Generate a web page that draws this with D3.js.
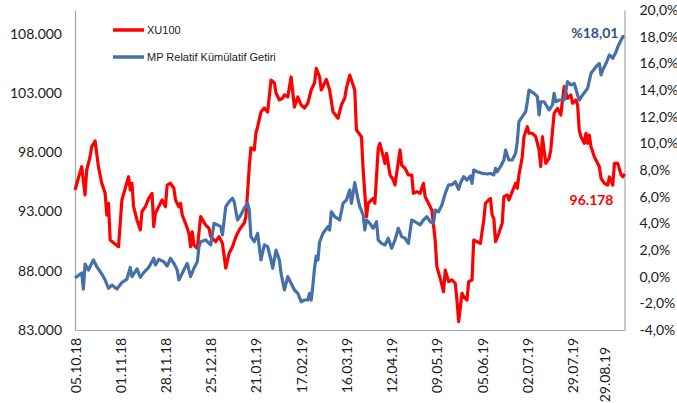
<!DOCTYPE html>
<html>
<head>
<meta charset="utf-8">
<script src="https://cdn.jsdelivr.net/npm/d3@7"></script>
<style>
  body { margin: 0; background: #fff; }
  svg { display: block; }
</style>
</head>
<body>
<div id="chart"></div>
<script>
// XU100 index (left axis)
var xu100 = [
  ["05.10.18",94810],["09.10.18",96780],["11.10.18",94390],["12.10.18",96500],["14.10.18",97620],["15.10.18",98470],
  ["17.10.18",98950],["19.10.18",96780],["21.10.18",95380],["23.10.18",94530],["24.10.18",92700],["25.10.18",93690],
  ["26.10.18",90590],["28.10.18",90370],["31.10.18",90030],["02.11.18",93970],["04.11.18",94960],["06.11.18",95930],
  ["07.11.18",94810],["08.11.18",95380],["09.11.18",93400],["11.11.18",92280],["13.11.18",91440],["14.11.18",92980],
  ["16.11.18",93400],["18.11.18",94110],["20.11.18",94530],["21.11.18",91720],["22.11.18",92850],["25.11.18",93690],
  ["26.11.18",93970],["28.11.18",93400],["29.11.18",95230],["01.12.18",95380],["03.12.18",94960],["04.12.18",93970],
  ["06.12.18",93400],["07.12.18",93690],["08.12.18",92700],["10.12.18",92000],["12.12.18",91160],["13.12.18",90030],
  ["14.12.18",91290],["15.12.18",90170],["17.12.18",89890],["19.12.18",92560],["22.12.18",91860],["24.12.18",91580],
  ["25.12.18",90870],["28.12.18",90450],["30.12.18",90870],["01.01.19",90310],["03.01.19",88210],["05.01.19",89470],
  ["07.01.19",90030],["09.01.19",90850],["11.01.19",91440],["14.01.19",92030],["15.01.19",92530],["16.01.19",94560],
  ["17.01.19",96750],["18.01.19",98360],["20.01.19",98190],["21.01.19",99620],["22.01.19",100130],["24.01.19",101390],
  ["26.01.19",101730],["28.01.19",101390],["30.01.19",104090],["01.02.19",103840],["02.02.19",103000],["04.02.19",102410],
  ["06.02.19",102570],["07.02.19",102830],["09.02.19",102660],["11.02.19",104350],["13.02.19",101810],["15.02.19",102660],
  ["17.02.19",101980],["19.02.19",101730],["21.02.19",102150],["23.02.19",103250],["25.02.19",103840],["26.02.19",105080],
  ["28.02.19",104370],["01.03.19",103250],["04.03.19",104150],["06.03.19",103250],["08.03.19",101420],["11.03.19",100860],
  ["13.03.19",101980],["15.03.19",102550],["16.03.19",103390],["18.03.19",104510],["21.03.19",103250],["22.03.19",99870],
  ["25.03.19",99310],["26.03.19",96500],["28.03.19",92560],["29.03.19",93690],["31.03.19",93970],["01.04.19",94110],
  ["02.04.19",93690],["04.04.19",98330],["05.04.19",98750],["07.04.19",97620],["08.04.19",97060],["09.04.19",97910],
  ["11.04.19",96080],["13.04.19",95660],["14.04.19",95230],["17.04.19",98190],["18.04.19",96920],["20.04.19",96640],
  ["22.04.19",96080],["24.04.19",96080],["25.04.19",94530],["27.04.19",94670],["29.04.19",94530],["01.05.19",95380],
  ["02.05.19",94250],["04.05.19",93690],["06.05.19",93120],["08.05.19",90590],["09.05.19",88340],["11.05.19",87360],
  ["13.05.19",86230],["14.05.19",88060],["16.05.19",87080],["18.05.19",87220],["20.05.19",86940],["21.05.19",85530],
  ["22.05.19",83700],["24.05.19",86100],["25.05.19",85810],["27.05.19",85530],["28.05.19",87080],["30.05.19",87220],
  ["31.05.19",90590],["02.06.19",90450],["04.06.19",90310],["06.06.19",92280],["07.06.19",93690],["09.06.19",93970],
  ["10.06.19",94110],["11.06.19",92700],["12.06.19",92420],["13.06.19",90450],["15.06.19",91160],["17.06.19",92000],
  ["18.06.19",94250],["20.06.19",94390],["21.06.19",93970],["23.06.19",94670],["25.06.19",95380],["26.06.19",94960],
  ["27.06.19",96080],["29.06.19",97620],["30.06.19",99310],["02.07.19",100150],["03.07.19",99600],["05.07.19",99600],
  ["07.07.19",99310],["09.07.19",98190],["10.07.19",96780],["11.07.19",99310],["13.07.19",97060],["15.07.19",97490],
  ["16.07.19",98190],["18.07.19",101280],["20.07.19",101700],["22.07.19",101140],["23.07.19",102410],["24.07.19",103530],
  ["26.07.19",102550],["28.07.19",102830],["29.07.19",102130],["31.07.19",102410],["01.08.19",101980],["02.08.19",99870],
  ["03.08.19",99310],["05.08.19",98750],["06.08.19",99600],["07.08.19",98750],["08.08.19",99450],["09.08.19",98470],
  ["11.08.19",97620],["14.08.19",96780],["15.08.19",95800],["17.08.19",95380],["19.08.19",95230],["20.08.19",95930],
  ["22.08.19",95230],["23.08.19",97060],["25.08.19",97060],["27.08.19",96080],["28.08.19",95930],["29.08.19",96178]
];

// MP relative cumulative return, % (right axis)
var mpGetiri = [
  ["05.10.18",-0.10],["09.10.18",0.28],["10.10.18",-0.93],["11.10.18",0.95],["13.10.18",0.50],["16.10.18",1.25],
  ["18.10.18",0.75],["21.10.18",0.20],["23.10.18",-0.25],["25.10.18",-0.87],["27.10.18",-0.63],["30.10.18",-0.93],
  ["02.11.18",-0.44],["05.11.18",-0.18],["07.11.18",0.69],["08.11.18",0.00],["11.11.18",0.58],["13.11.18",-0.06],
  ["15.11.18",0.31],["18.11.18",0.69],["21.11.18",1.38],["22.11.18",0.88],["24.11.18",1.30],["27.11.18",1.12],
  ["29.11.18",0.80],["01.12.18",1.38],["03.12.18",1.00],["05.12.18",0.50],["06.12.18",-0.25],["08.12.18",0.25],
  ["11.12.18",1.00],["13.12.18",0.00],["15.12.18",0.63],["17.12.18",1.12],["18.12.18",2.25],["19.12.18",2.62],
  ["22.12.18",2.75],["25.12.18",2.38],["27.12.18",4.00],["29.12.18",3.88],["31.12.18",3.75],["01.01.19",3.13],
  ["03.01.19",5.25],["05.01.19",5.62],["07.01.19",5.88],["08.01.19",5.62],["10.01.19",4.25],["12.01.19",4.63],
  ["14.01.19",5.13],["16.01.19",5.50],["17.01.19",5.00],["18.01.19",3.00],["20.01.19",2.62],["22.01.19",3.25],
  ["23.01.19",2.25],["24.01.19",1.25],["26.01.19",2.38],["28.01.19",2.25],["30.01.19",1.25],["31.01.19",0.63],
  ["02.02.19",2.00],["04.02.19",1.25],["05.02.19",0.25],["07.02.19",-1.00],["09.02.19",0.00],["11.02.19",-0.50],
  ["13.02.19",-1.00],["15.02.19",-1.25],["17.02.19",-1.88],["19.02.19",-1.75],["21.02.19",-1.75],["22.02.19",-1.25],
  ["23.02.19",-1.75],["24.02.19",-0.63],["25.02.19",0.65],["26.02.19",1.55],["27.02.19",1.25],["28.02.19",2.60],
  ["02.03.19",3.25],["05.03.19",3.75],["06.03.19",3.50],["07.03.19",4.87],["09.03.19",4.50],["12.03.19",4.25],
  ["14.03.19",5.50],["16.03.19",5.75],["18.03.19",6.50],["19.03.19",5.50],["20.03.19",6.25],["21.03.19",7.05],
  ["23.03.19",5.75],["24.03.19",5.25],["26.03.19",4.63],["27.03.19",3.50],["28.03.19",4.25],["30.03.19",4.00],
  ["01.04.19",3.63],["03.04.19",4.12],["04.04.19",2.75],["06.04.19",2.50],["08.04.19",2.38],["10.04.19",2.88],
  ["12.04.19",2.13],["14.04.19",2.75],["16.04.19",3.63],["18.04.19",3.00],["20.04.19",2.88],["22.04.19",2.50],
  ["24.04.19",4.25],["26.04.19",4.12],["29.04.19",3.88],["01.05.19",4.25],["03.05.19",4.50],["05.05.19",4.12],
  ["07.05.19",4.00],["08.05.19",5.00],["10.05.19",4.87],["12.05.19",5.38],["14.05.19",6.25],["16.05.19",6.88],
  ["18.05.19",6.88],["20.05.19",7.12],["22.05.19",6.55],["23.05.19",7.00],["25.05.19",7.50],["27.05.19",7.25],
  ["29.05.19",7.55],["30.05.19",7.00],["31.05.19",8.00],["02.06.19",7.87],["05.06.19",7.75],["08.06.19",7.70],
  ["10.06.19",7.75],["12.06.19",7.63],["13.06.19",8.13],["14.06.19",7.87],["16.06.19",8.25],["18.06.19",8.75],
  ["19.06.19",9.50],["21.06.19",8.75],["23.06.19",8.75],["25.06.19",9.25],["26.06.19",10.12],["27.06.19",11.62],
  ["29.06.19",12.00],["01.07.19",12.37],["02.07.19",13.12],["03.07.19",14.00],["06.07.19",13.75],["08.07.19",13.50],
  ["09.07.19",12.13],["10.07.19",13.12],["12.07.19",13.12],["15.07.19",12.50],["17.07.19",12.88],["18.07.19",13.75],
  ["19.07.19",13.12],["21.07.19",13.25],["24.07.19",13.25],["26.07.19",14.62],["28.07.19",14.38],["30.07.19",14.50],
  ["01.08.19",13.63],["02.08.19",13.25],["04.08.19",13.63],["07.08.19",14.13],["09.08.19",15.25],["12.08.19",15.75],
  ["14.08.19",16.00],["15.08.19",15.13],["16.08.19",15.50],["18.08.19",16.00],["20.08.19",16.63],["22.08.19",16.38],
  ["24.08.19",16.87],["25.08.19",17.25],["27.08.19",17.75],["28.08.19",18.00],["29.08.19",18.01]
];

var xTickLabels = ["05.10.18","01.11.18","28.11.18","25.12.18","21.01.19","17.02.19","16.03.19",
                   "12.04.19","09.05.19","05.06.19","02.07.19","29.07.19","29.08.19"];
var leftTicks = [83000, 88000, 93000, 98000, 103000, 108000];
var rightTicks = [-4, -2, 0, 2, 4, 6, 8, 10, 12, 14, 16, 18, 20];
var seriesNames = ["XU100", "MP Relatif Kümülatif Getiri"];

var W = 677, H = 403,
    m = {t:10, r:52.5, b:73, l:75},
    w = W - m.l - m.r,
    h = H - m.t - m.b;

var red = "#ff0000", blue = "#4670a8", axisGrey = "#a6a6a6";

var parse = d3.timeParse("%d.%m.%y");
var trLocale = d3.formatLocale({decimal: ",", thousands: ".", grouping: [3], currency: ["", ""], minus: "-"});
var fmtLeft = trLocale.format(",.0f"),
    fmtRight = trLocale.format(",.1f");

var redData = xu100.map(function(d){ return {date: parse(d[0]), value: d[1]}; });
var blueData = mpGetiri.map(function(d){ return {date: parse(d[0]), value: d[1]}; });

var x = d3.scaleTime()
  .domain([parse("05.10.18"), parse("29.08.19")])
  .range([0, w]);
var yL = d3.scaleLinear().domain([83000, 110000]).range([h, 0]);
var yR = d3.scaleLinear().domain([-4, 20]).range([h, 0]);

var svg = d3.select("#chart").append("svg")
  .attr("width", W).attr("height", H)
  .style("font-family", "Lato, 'Open Sans', sans-serif");

var g = svg.append("g").attr("transform", "translate(" + m.l + "," + m.t + ")");

// axes
var axL = g.append("g")
  .call(d3.axisLeft(yL).tickValues(leftTicks).tickFormat(fmtLeft).tickSize(0).tickPadding(13));
var axR = g.append("g").attr("transform", "translate(" + w + ",0)")
  .call(d3.axisRight(yR).tickValues(rightTicks).tickFormat(function(d){ return fmtRight(d) + "%"; })
    .tickSize(0).tickPadding(15));
var axB = g.append("g").attr("transform", "translate(0," + h + ")")
  .call(d3.axisBottom(x).tickValues(xTickLabels.map(parse)).tickFormat(d3.timeFormat("%d.%m.%y"))
    .tickSize(0).tickPadding(0));

[axL, axR, axB].forEach(function(a){
  a.select(".domain").attr("stroke", axisGrey).attr("stroke-width", 1.2);
  a.selectAll("text").attr("fill", "#1a1a1a").style("font-size", "14px").style("font-family", "Lato, sans-serif");
});

axB.selectAll("text")
  .attr("transform", "rotate(-90)")
  .attr("text-anchor", "end")
  .attr("x", -8).attr("y", 0).attr("dy", "0.36em");
// the last label sits apart from the regular ticks
axB.selectAll(".tick").filter(function(d, i){ return i == xTickLabels.length - 1; })
  .select("text").attr("x", -17).attr("y", -20);

// lines
var lineL = d3.line().x(function(d){ return x(d.date); }).y(function(d){ return yL(d.value); });
var lineR = d3.line().x(function(d){ return x(d.date); }).y(function(d){ return yR(d.value); });

g.append("path").datum(redData)
  .attr("d", lineL).attr("fill", "none").attr("stroke", red)
  .attr("stroke-width", 3.2).attr("stroke-linejoin", "round");
g.append("path").datum(blueData)
  .attr("d", lineR).attr("fill", "none").attr("stroke", blue)
  .attr("stroke-width", 3.2).attr("stroke-linejoin", "round");

// legend
var legend = svg.append("g").attr("transform", "translate(113,30)");
[red, blue].forEach(function(c, i){
  var row = legend.append("g").attr("transform", "translate(0," + (i * 27) + ")");
  row.append("line").attr("x1", 0).attr("x2", 31).attr("y1", 0).attr("y2", 0)
    .attr("stroke", c).attr("stroke-width", 3.5);
  row.append("text").attr("x", 34).attr("y", 0).attr("dy", "0.35em")
    .style("font-family", "'Liberation Sans', Arial, sans-serif").style("font-size", "11px")
    .attr("fill", "#1a1a1a").text(seriesNames[i]);
});

// end value labels
var lastRed = redData[redData.length - 1], lastBlue = blueData[blueData.length - 1];
g.append("text")
  .attr("x", x(lastBlue.date) - 6).attr("y", yR(lastBlue.value) - 3)
  .attr("text-anchor", "end").attr("dy", "0.35em")
  .style("font-size", "14px").style("font-weight", "bold")
  .attr("fill", "#2f4f86")
  .text("%" + trLocale.format(",.2f")(lastBlue.value));
g.append("text")
  .attr("x", x(lastRed.date) - 11).attr("y", yL(lastRed.value) + 26)
  .attr("text-anchor", "end").attr("dy", "0.35em")
  .style("font-size", "14px").style("font-weight", "bold")
  .attr("fill", red)
  .text(trLocale.format(",.0f")(lastRed.value));
</script>
</body>
</html>
